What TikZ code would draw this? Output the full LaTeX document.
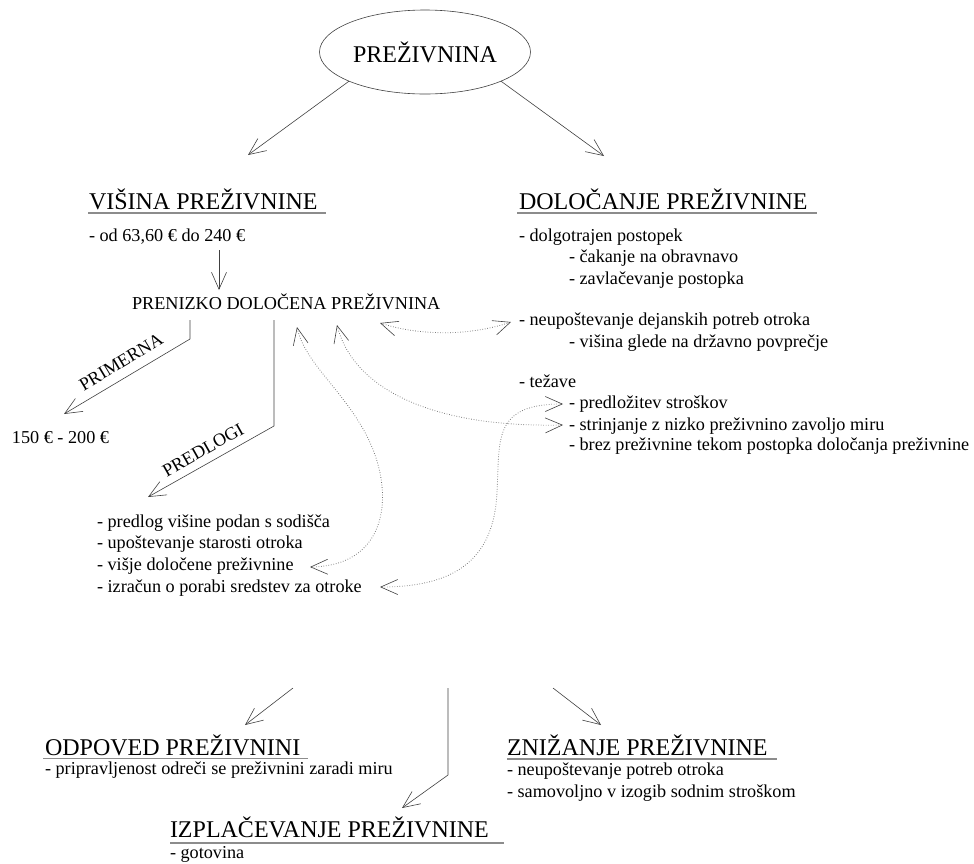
\documentclass[tikz,border=0pt]{standalone}
\usepackage{fontspec}
\setmainfont{Liberation Serif}
\usetikzlibrary{arrows.meta,shapes.geometric}
\tikzset{myb/.tip={Straight Barb[length=17pt,width=15pt,line width=0.6pt,color=black!75]}}
\begin{document}
\begin{tikzpicture}[x=1pt,y=-1pt,
  every node/.style={inner sep=0pt, outer sep=0pt, text=black},
  hd/.style={anchor=base west, font=\fontsize{24}{28}\selectfont},
  bd/.style={anchor=base west, font=\fontsize{18.2}{22}\selectfont},
  rot/.style={font=\fontsize{18.2}{22}\selectfont},
  uline/.style={draw=black!45, line width=1.4pt},
  arr/.style={draw=black!75, line width=0.6pt, -{myb}},
  dotarr/.style={draw=black!55, line width=0.8pt, dash pattern=on 0.7pt off 1.8pt, {myb}-{myb}},
]
\path[use as bounding box] (0,0) rectangle (974,863);

% root
\node[ellipse, draw=black!75, line width=0.6pt, minimum width=211pt, minimum height=84pt,
      font=\fontsize{24}{28}\selectfont] (root) at (425,52) {PREŽIVNINA};
\coordinate (t1) at (248,155);
\coordinate (t2) at (604,156);
\draw[arr] (root.201) -- (t1);
\draw[arr] (root.339) -- (t2);

% left branch
\node[hd] (visina) at (89,209) {VIŠINA PREŽIVNINE};
\draw[uline] (88,213) -- (326,213);
\node[bd] (od) at (89,241) {- od 63,60 € do 240 €};
\coordinate (d1) at (219,250);
\coordinate (d2) at (219,290);
\draw[arr] (d1) -- (d2);
\node[bd] (prenizko) at (132,309.5) {PRENIZKO DOLOČENA PREŽIVNINA};

\coordinate (p0) at (190,320);
\coordinate (p1) at (190,339);
\coordinate (p2) at (64,414);
\draw[arr] (p0) -- (p1) -- (p2);
\node[rot, rotate=31] (primerna) at (121,362) {PRIMERNA};
\node[bd] (eur) at (12,443) {150 € - 200 €};

\coordinate (q0) at (274,320);
\coordinate (q1) at (274,426);
\coordinate (q2) at (148,497);
\draw[arr] (q0) -- (q1) -- (q2);
\node[rot, rotate=29.5] (predlogi) at (203,450) {PREDLOGI};

\node[bd] (l1) at (97,527) {- predlog višine podan s sodišča};
\node[bd] (l2) at (97,548) {- upoštevanje starosti otroka};
\node[bd] (l3) at (97,570) {- višje določene preživnine};
\node[bd] (l4) at (97,592) {- izračun o porabi sredstev za otroke};

% right branch
\node[hd] (dolocanje) at (519,209) {DOLOČANJE PREŽIVNINE};
\draw[uline] (517,213) -- (817,213);
\node[bd] (r1) at (519,241) {- dolgotrajen postopek};
\node[bd] (r2) at (569,262) {- čakanje na obravnavo};
\node[bd] (r3) at (569,284) {- zavlačevanje postopka};
\node[bd] (r4) at (519,325) {- neupoštevanje dejanskih potreb otroka};
\node[bd] (r5) at (569,347) {- višina glede na državno povprečje};
\node[bd] (r6) at (519,387) {- težave};
\node[bd] (r7) at (569,408) {- predložitev stroškov};
\node[bd] (r8) at (569,430) {- strinjanje z nizko preživnino zavoljo miru};
\node[bd] (r9) at (569,450) {- brez preživnine tekom postopka določanja preživnine};

% dotted links
\coordinate (dA1) at (380,323);
\coordinate (dA2) at (511,322);
\draw[dotarr] (dA1) .. controls (420,336) and (470,336) .. (dA2);

\coordinate (dB1) at (310,567);
\coordinate (dB2) at (297,327);
\draw[dotarr] (dB1) .. controls (385,566) and (394,500) .. (372,447)
                    .. controls (350,395) and (305,365) .. (dB2);

\coordinate (dC1) at (337,325);
\coordinate (dC2) at (563,425);
\draw[dotarr] (dC1) .. controls (352,385) and (425,428) .. (dC2);

\coordinate (dD1) at (563,404);
\coordinate (dD2) at (380,587);
\draw[dotarr] (dD1) .. controls (492,404) and (500,440) .. (497,492)
                    .. controls (494,562) and (452,587) .. (dD2);

% bottom
\coordinate (b1s) at (293,688);
\coordinate (b1e) at (245,725);
\draw[arr] (b1s) -- (b1e);
\node[hd] (odpoved) at (45,755) {ODPOVED PREŽIVNINI};
\draw[uline] (43,758.5) -- (308,758.5);
\node[bd] (o1) at (45,774) {- pripravljenost odreči se preživnini zaradi miru};

\coordinate (b2s) at (448,688);
\coordinate (b2m) at (448,775);
\coordinate (b2e) at (402,808);
\draw[arr] (b2s) -- (b2m) -- (b2e);
\node[hd] (izplacevanje) at (170,837) {IZPLAČEVANJE PREŽIVNINE};
\draw[uline] (170,843) -- (504,843);
\node[bd] (g1) at (170,858) {- gotovina};

\coordinate (b3s) at (553,688);
\coordinate (b3e) at (601,725);
\draw[arr] (b3s) -- (b3e);
\node[hd] (znizanje) at (507,755) {ZNIŽANJE PREŽIVNINE};
\draw[uline] (507,759) -- (777,759);
\node[bd] (z1) at (507,775) {- neupoštevanje potreb otroka};
\node[bd] (z2) at (507,797) {- samovoljno v izogib sodnim stroškom};
\end{tikzpicture}
\end{document}
